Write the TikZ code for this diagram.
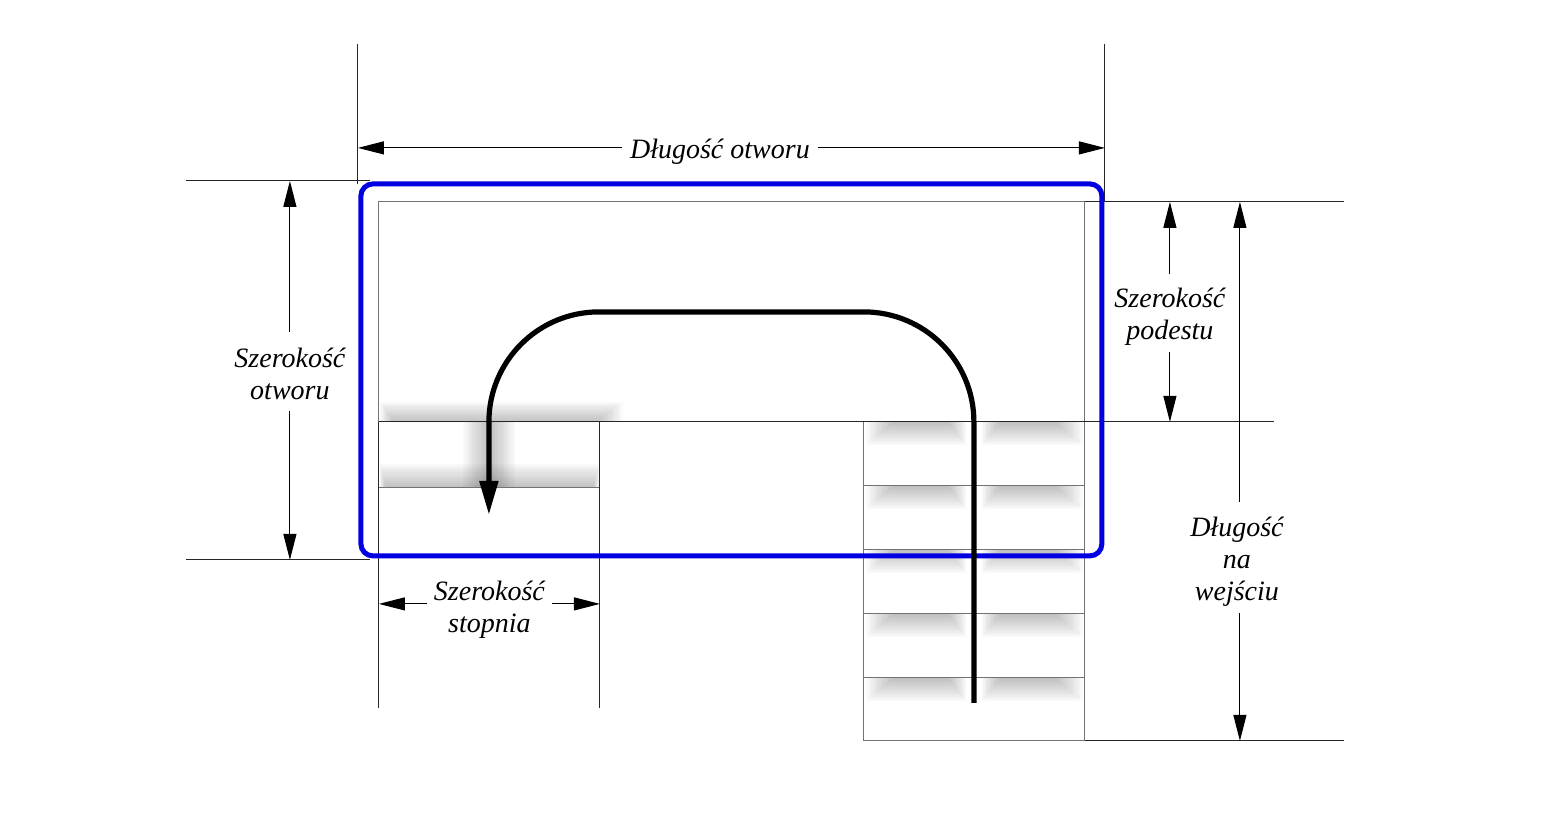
\documentclass[tikz,border=0pt]{standalone}
\usepackage{fontspec}
\setmainfont{Liberation Serif}
\usetikzlibrary{arrows.meta}
\newcommand{\lineup}[1]{\rule{0pt}{#1pt}}
\definecolor{openingblue}{RGB}{0,0,225}
\tikzset{
	every node/.style={inner sep=0pt, align=center, font=\fontsize{14}{16}\selectfont\itshape}
}
\tikzset{
	thinline/.style={line width=.5pt, draw=black!55},
	extline/.style={line width=.55pt, draw=black!85},
	dimline/.style={line width=.55pt, -{Stealth[inset=0pt,length=13pt,width=6.5pt]}},
	openingline/.style={line width=2.5pt, draw=openingblue, rounded corners=6pt},
	walkline/.style={line width=2.6pt, rounded corners=55pt, -{Stealth[inset=0pt,length=17pt,width=9pt]}},
	shadowstep/.style={fill=black, opacity=.024}
}
\pgfdeclarelayer{background}
\pgfsetlayers{background,main}

\begin{document}
\begin{tikzpicture}[x=.5pt, y=-.5pt]
	\useasboundingbox (.1,.1) rectangle (1545.1,829.1);
	% shadows of the steps
	\begin{pgfonlayer}{background}
		\foreach \i in {1,...,12} {
			\fill[shadowstep] (379+\i*1.2,422) rectangle (625-\i*2.4,422-22+\i*1.8);
			\fill[shadowstep] (379+\i*.6,488) rectangle (600-\i*.6,488-26+\i*2.1);
			\fill[shadowstep] (489-28+\i*2.2,422) rectangle (489+28-\i*2.2,488);
			\foreach \y in {422,486,550,614,678} {
				\fill[shadowstep] (864+\i*2.4,\y) rectangle (968-\i*1.6,\y+25-\i*2);
				\fill[shadowstep] (980+\i*1.6,\y) rectangle (1085-\i*2.4,\y+25-\i*2);
			}
		}
	\end{pgfonlayer}
	% corners
	\coordinate (tl) at (379,202);
	\coordinate (tr) at (1085,202);
	\coordinate (ml) at (379,422);
	\coordinate (mr) at (1274,422);
	\coordinate (sl) at (600,422);
	\coordinate (sr) at (864,422);
	\coordinate (br) at (1085,741);
	\coordinate (bl) at (864,741);
	\coordinate (lb) at (379,708);
	\coordinate (sb) at (600,708);
	\coordinate (fr) at (1344,202);
	\coordinate (gr) at (1344,741);
	% outline of the floor
	\draw[thinline] (ml) -- (tl) -- (tr) -- (br) -- (bl) -- (sr);
	\draw[extline] (ml) -- (mr);
	\draw[thinline] (379,488) -- (600,488);
	\draw[extline] (ml) -- (lb);
	\draw[extline] (sl) -- (sb);
	\foreach \y in {486,550,614,678} {
		\draw[thinline] (864,\y) -- (1085,\y);
	}
	\draw[extline] (tr) -- (fr);
	\draw[extline] (br) -- (gr);
	% extension lines
	\coordinate (ea) at (358,44);
	\coordinate (eb) at (358,184);
	\coordinate (ec) at (1105,44);
	\coordinate (ed) at (1105,202);
	\coordinate (ee) at (186,181);
	\coordinate (ef) at (370,181);
	\coordinate (eg) at (186,560);
	\coordinate (eh) at (370,560);
	\draw[extline] (ea) -- (eb);
	\draw[extline] (ec) -- (ed);
	\draw[extline] (ee) -- (ef);
	\draw[extline] (eg) -- (eh);
	% opening
	\coordinate (oa) at (361,184);
	\coordinate (ob) at (1102,556);
	\draw[openingline] (oa) rectangle (ob);
	% walking line
	\coordinate (wa) at (974,703);
	\coordinate (wb) at (974,312);
	\coordinate (wc) at (489,312);
	\coordinate (wd) at (489,515);
	\draw[walkline] (wa) -- (wb) -- (wc) -- (wd);
	% labels
	\node[minimum width=97.5pt] (dlo) at (720,148) {\lineup{14}Długość otworu};
	\node[minimum height=39.5pt] (szo) at (290,371.5) {\lineup{12}Szerokość\\otworu};
	\node[minimum height=39pt] (szp) at (1170,313) {\lineup{14}Szerokość\\podestu};
	\node[minimum height=55.5pt] (dlw) at (1237,557.5) {\lineup{14}Długość\\na\\wejściu};
	\node[minimum width=62.5pt] (szs) at (489.5,604) {\lineup{16}Szerokość\\stopnia};
	% dimension arrows
	\coordinate (da) at (358,148);
	\coordinate (db) at (1105,148);
	\coordinate (dc) at (290,181);
	\coordinate (dd) at (290,560);
	\coordinate (de) at (1170,202);
	\coordinate (df) at (1170,422);
	\coordinate (dg) at (1240,202);
	\coordinate (dh) at (1240,741);
	\coordinate (di) at (379,604);
	\coordinate (dj) at (600,604);
	\draw[dimline] (dlo) -- (da);
	\draw[dimline] (dlo) -- (db);
	\draw[dimline] (szo) -- (dc);
	\draw[dimline] (szo) -- (dd);
	\draw[dimline] (szp) -- (de);
	\draw[dimline] (szp) -- (df);
	\draw[dimline] (dlw.north -| dg) -- (dg);
	\draw[dimline] (dlw.south -| dh) -- (dh);
	\draw[dimline] (szs) -- (di);
	\draw[dimline] (szs) -- (dj);
\end{tikzpicture}
\end{document}
